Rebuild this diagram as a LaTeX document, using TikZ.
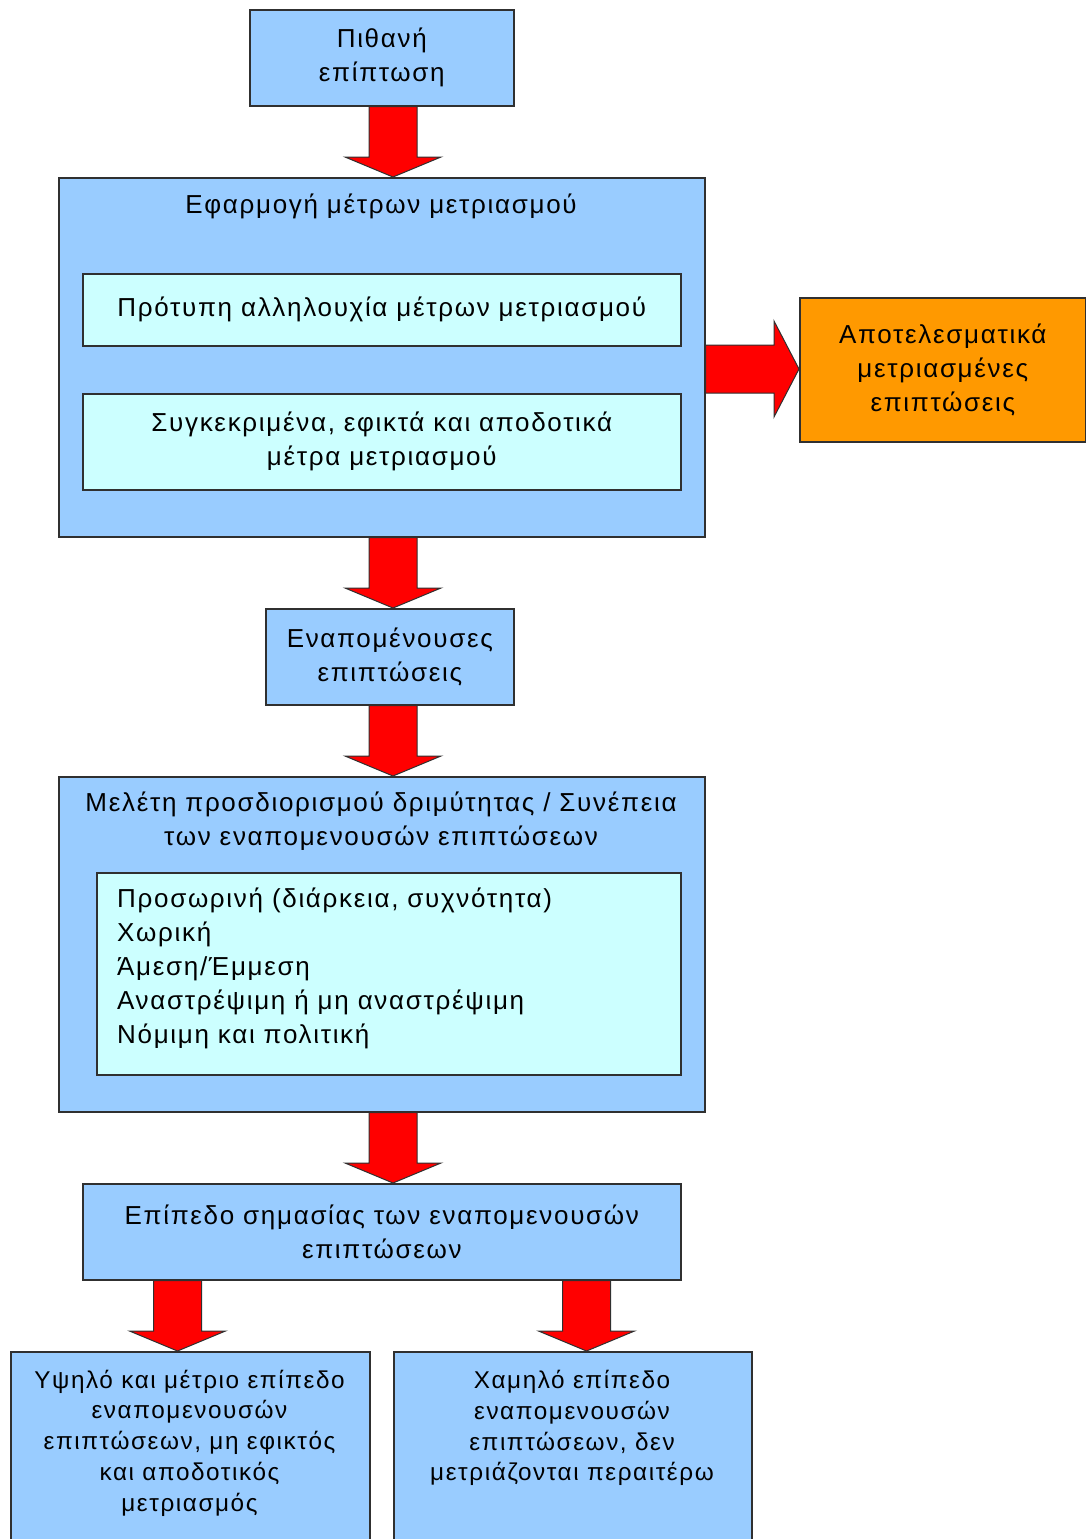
\documentclass[tikz,border=0pt]{standalone}
\usepackage{fontspec}
\setmainfont[LetterSpace=6.5]{Liberation Sans}
\usetikzlibrary{backgrounds}
\definecolor{boxblue}{HTML}{99CCFF}
\definecolor{boxcyan}{HTML}{CCFFFF}
\definecolor{boxorange}{HTML}{FF9900}
\definecolor{arrred}{HTML}{FF0000}
\definecolor{edge}{HTML}{303030}
\tikzset{
  blk/.style={draw=edge, line width=1.6pt, fill=boxblue, anchor=north west, inner sep=0pt, align=center, font=\mytext},
  inner/.style={blk, fill=boxcyan},
  obox/.style={blk, fill=boxorange},
  txt/.style={inner sep=0pt, align=center, font=\mytext},
  tighttxt/.style={txt, font=\mytighttext},
  arr/.style={fill=arrred, draw=edge, line width=1pt, line join=miter},
}
\newcommand\mytext{\fontsize{26}{34}\selectfont}
\newcommand\mytighttext{\fontsize{24.3}{30.7}\selectfont}
% downward block arrow from node #1 to node #2 along column #3
\newcommand\dnarrow[3]{%
  \draw[arr] ([xshift=-24pt]#1.south -| #3) -- ([xshift=-24pt,yshift=20pt]#2.north -| #3)
    -- ([xshift=-48pt,yshift=20pt]#2.north -| #3) -- (#2.north -| #3)
    -- ([xshift=48pt,yshift=20pt]#2.north -| #3) -- ([xshift=24pt,yshift=20pt]#2.north -| #3)
    -- ([xshift=24pt]#1.south -| #3) -- cycle;}
\begin{document}
\begin{tikzpicture}[x=1pt,y=-1pt]
\useasboundingbox (0,0) rectangle (1086,1539);
\clip (0,0) rectangle (1086,1539);
\coordinate (colA) at (393,0);
\coordinate (colL) at (177.5,0);
\coordinate (colR) at (586.5,0);
\coordinate (rowR) at (0,369);

\node[blk, minimum width=264pt, minimum height=96pt] (b1) at (249,9) {Πιθανή\\επίπτωση};

\node[blk, minimum width=646pt, minimum height=359pt] (b2) at (58,177) {};
\node[txt] (t2) at (381,206) {Εφαρμογή μέτρων μετριασμού};
\node[inner, minimum width=598pt, minimum height=72pt] (in1) at (82,273) {Πρότυπη αλληλουχία μέτρων μετριασμού};
\node[inner, minimum width=598pt, minimum height=96pt] (in2) at (82,393) {Συγκεκριμένα, εφικτά και αποδοτικά\\μέτρα μετριασμού};

\node[obox, minimum width=286pt, minimum height=144pt] (ob) at (799,297) {Αποτελεσματικά\\μετριασμένες\\επιπτώσεις};

\node[blk, minimum width=248pt, minimum height=96pt] (b3) at (265,608) {Εναπομένουσες\\επιπτώσεις};

\node[blk, minimum width=646pt, minimum height=335pt] (b4) at (58,776) {};
\node[txt] (t4) at (381,821) {Μελέτη προσδιορισμού δριμύτητας / Συνέπεια\\των εναπομενουσών επιπτώσεων};
\node[inner, minimum width=584pt, minimum height=202pt] (in4) at (96,872) {};
\node[txt, anchor=west, align=left] (t4b) at (117,968) {Προσωρινή (διάρκεια, συχνότητα)\\Χωρική\\Άμεση/Έμμεση\\Αναστρέψιμη ή μη αναστρέψιμη\\Νόμιμη και πολιτική};

\node[blk, minimum width=598pt, minimum height=96pt] (b5) at (82,1183) {Επίπεδο σημασίας των εναπομενουσών\\επιπτώσεων};

\node[blk, minimum width=359pt, minimum height=230pt] (b6) at (10,1351) {};
\node[tighttxt] (t6) at (189.5,1443) {Υψηλό και μέτριο επίπεδο\\εναπομενουσών\\επιπτώσεων, μη εφικτός\\και αποδοτικός\\μετριασμός};
\node[blk, minimum width=358pt, minimum height=230pt] (b7) at (393,1351) {};
\node[tighttxt] (t7) at (572,1428) {Χαμηλό επίπεδο\\εναπομενουσών\\επιπτώσεων, δεν\\μετριάζονται περαιτέρω};

\begin{scope}[on background layer]
\dnarrow{b1}{b2}{colA}
\dnarrow{b2}{b3}{colA}
\dnarrow{b3}{b4}{colA}
\dnarrow{b4}{b5}{colA}
\dnarrow{b5}{b6}{colL}
\dnarrow{b5}{b7}{colR}
\draw[arr] (b2.east |- rowR) ++(0,-24) -- ([xshift=-25pt,yshift=24pt]ob.west |- rowR)
  -- ([xshift=-25pt,yshift=48pt]ob.west |- rowR) -- (ob.west |- rowR)
  -- ([xshift=-25pt,yshift=-48pt]ob.west |- rowR) -- ([xshift=-25pt,yshift=-24pt]ob.west |- rowR)
  -- ([yshift=-24pt]b2.east |- rowR) -- cycle;
\end{scope}
\end{tikzpicture}
\end{document}
